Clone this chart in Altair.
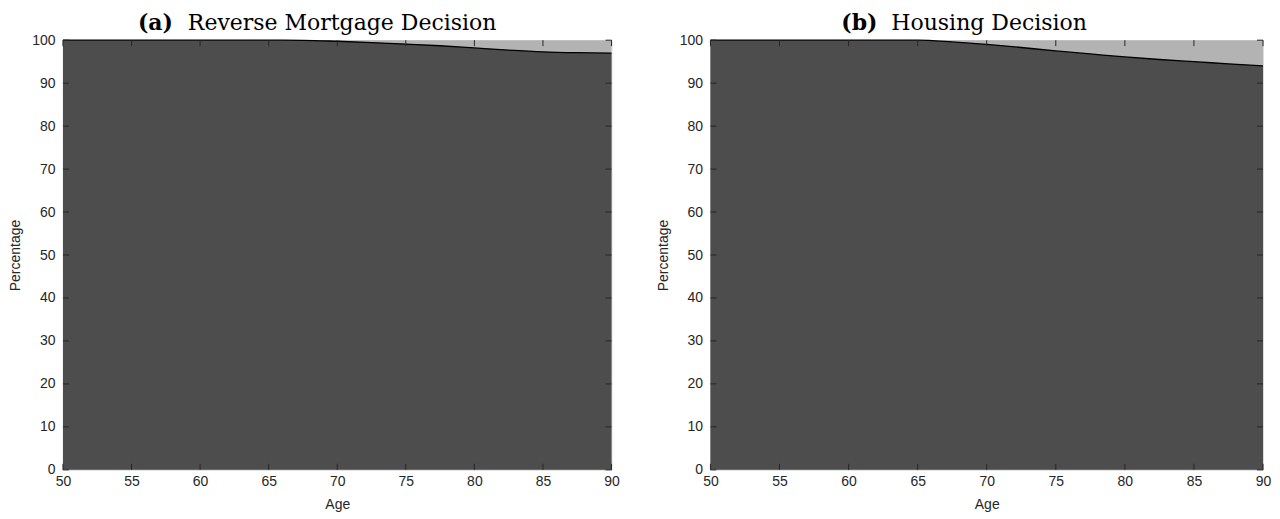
import altair as alt
import pandas as pd

# ---- data ----
ages = [50, 52.5, 55, 57.5, 60, 62.5, 65, 67.5, 70, 72.5, 75, 77.5, 80, 82.5, 85, 87.5, 90]
rm_no = [100, 100, 100, 100, 100, 100, 100, 99.97, 99.75, 99.45, 99.1, 98.7, 98.2, 97.7, 97.3, 97.1, 97.0]
house_stay = [100, 100, 100, 100, 100, 100, 100, 99.6, 99.0, 98.3, 97.5, 96.8, 96.1, 95.5, 95.0, 94.5, 94.0]
x_ticks = [50, 55, 60, 65, 70, 75, 80, 85, 90]
y_ticks = [0, 10, 20, 30, 40, 50, 60, 70, 80, 90, 100]
titles = [("(a)", "Reverse Mortgage Decision"), ("(b)", "Housing Decision")]

H = 430
DARK = "#4d4d4d"
LIGHT = "#b3b3b3"
TICK = "#262626"
SANS = "Liberation Sans"
SERIF = "DejaVu Serif"


def panel(values, label, name, W, title_x):
    df = pd.DataFrame({"age": ages, "pct": values, "top": [100] * len(ages)})
    xs = alt.Scale(domain=[50, 90], nice=False)
    ys = alt.Scale(domain=[0, 100], nice=False)
    xax = alt.Axis(values=x_ticks, title="Age", ticks=False, grid=False, domain=False,
                   labelFont=SANS, labelFontSize=14, labelColor="#262626", labelPadding=5,
                   titleFont=SANS, titleFontSize=14, titleFontWeight="normal", titleColor="#262626",
                   titlePadding=9, labelFlush=False)
    yax = alt.Axis(values=y_ticks, title="Percentage", ticks=False, grid=False, domain=False,
                   labelFont=SANS, labelFontSize=14, labelColor="#262626", labelPadding=8,
                   titleFont=SANS, titleFontSize=14, titleFontWeight="normal", titleColor="#262626",
                   titlePadding=9, labelFlush=False)
    base = alt.Chart(df)
    light = base.mark_area(color=LIGHT, interpolate="monotone").encode(
        x=alt.X("age:Q", scale=xs, axis=xax),
        y=alt.Y("top:Q", scale=ys, axis=yax),
    )
    dark = base.mark_area(color=DARK, interpolate="monotone").encode(
        x=alt.X("age:Q", scale=xs), y=alt.Y("pct:Q", scale=ys))
    line = base.mark_line(color="black", strokeWidth=1.3, interpolate="monotone").encode(
        x=alt.X("age:Q", scale=xs), y=alt.Y("pct:Q", scale=ys))

    xt = alt.Chart(pd.DataFrame({"t": x_ticks}))
    yt = alt.Chart(pd.DataFrame({"t": y_ticks}))
    xb = xt.mark_rule(color=TICK, strokeWidth=1).encode(
        x=alt.X("t:Q", scale=xs), y=alt.value(H), y2=alt.value(H - 6))
    xtop = xt.mark_rule(color=TICK, strokeWidth=1).encode(
        x=alt.X("t:Q", scale=xs), y=alt.value(0), y2=alt.value(6))
    yl = yt.mark_rule(color=TICK, strokeWidth=1).encode(
        y=alt.Y("t:Q", scale=ys), x=alt.value(0), x2=alt.value(6))
    yr = yt.mark_rule(color=TICK, strokeWidth=1).encode(
        y=alt.Y("t:Q", scale=ys), x=alt.value(W), x2=alt.value(W - 6))

    tdf = pd.DataFrame({"a": [label], "b": [name]})
    tc = alt.Chart(tdf)
    t1 = tc.mark_text(font=SERIF, fontSize=22, fontWeight="bold", align="left",
                      baseline="alphabetic", color="black").encode(
        text="a:N", x=alt.value(title_x), y=alt.value(-10))
    t2 = tc.mark_text(font=SERIF, fontSize=22, fontWeight="normal", align="left",
                      baseline="alphabetic", color="black").encode(
        text="b:N", x=alt.value(title_x + 50), y=alt.value(-10))

    return alt.layer(light, dark, line, xb, xtop, yl, yr, t1, t2).properties(width=W, height=H)


chart = alt.hconcat(
    panel(rm_no, *titles[0], W=549, title_x=75),
    panel(house_stay, *titles[1], W=553, title_x=131),
    spacing=35,
).properties(
    padding={"top": 3, "left": 0, "right": 0, "bottom": 0}
).configure_view(stroke="black", strokeWidth=1.5).configure(background="white")

chart.save("out.html", embed_options={"renderer": "svg", "actions": False})
